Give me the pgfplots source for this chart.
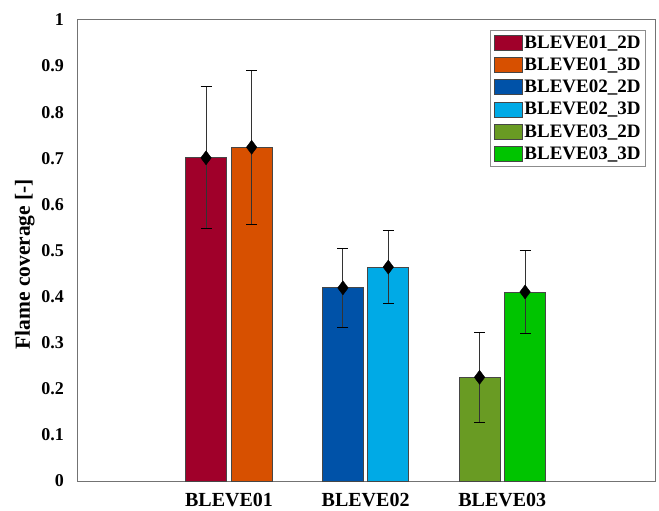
\documentclass[border=0pt]{standalone}
\usepackage{pgfplots}
\pgfplotsset{compat=1.18}
\usepackage{fontspec}
\setmainfont{Liberation Serif}
\definecolor{cA}{RGB}{160,0,42}
\definecolor{cB}{RGB}{215,80,0}
\definecolor{cC}{RGB}{0,82,168}
\definecolor{cD}{RGB}{0,170,230}
\definecolor{cE}{RGB}{105,155,35}
\definecolor{cF}{RGB}{0,196,0}
\definecolor{edge}{RGB}{70,70,70}
\begin{document}
\begin{tikzpicture}
\begin{axis}[
  scale only axis, width=577pt, height=461pt,
  xmin=-0.105, xmax=4.118, ymin=0, ymax=1,
  xtick={1,2,3}, xticklabels={BLEVE01,BLEVE02,BLEVE03},
  ytick={0,0.1,...,1.0},
  yticklabels={0,0.1,0.2,0.3,0.4,0.5,0.6,0.7,0.8,0.9,1},
  /pgf/number format/assume math mode=true,
  tick style={draw=none},
  axis line style={draw=black!55, line width=1pt},
  yticklabel style={font=\fontsize{18}{20}\selectfont\bfseries, inner sep=0pt},
  xticklabel style={font=\fontsize{20}{22}\selectfont\bfseries, inner sep=0pt},
  yticklabel shift=14pt,
  xticklabel shift=12pt,
  ylabel={Flame coverage [-]},
  ylabel style={font=\fontsize{21.5}{23}\selectfont\bfseries, at={(axis description cs:-0.069,0.47)}, anchor=south},
  legend style={at={(axis description cs:1,1)}, anchor=north east, xshift=-9pt, yshift=-10pt,
    draw=black!45, line width=0.8pt, font=\fontsize{19}{21}\selectfont\bfseries,
    inner xsep=3pt, inner ysep=3.5pt, row sep=4pt, cells={anchor=west}},
  legend image code/.code={\draw[#1, draw=edge, line width=0.6pt] (0pt,-7.5pt) rectangle (28pt,7.5pt);},
  legend cell align=left,
]
\addplot[ybar, bar width=0.3, bar shift=0, fill=cA, draw=edge, line width=0.8pt] coordinates {(0.832,0.701)};
\addlegendentry{BLEVE01\_2D}
\addplot[ybar, bar width=0.3, bar shift=0, fill=cB, draw=edge, line width=0.8pt] coordinates {(1.166,0.724)};
\addlegendentry{BLEVE01\_3D}
\addplot[ybar, bar width=0.3, bar shift=0, fill=cC, draw=edge, line width=0.8pt] coordinates {(1.834,0.419)};
\addlegendentry{BLEVE02\_2D}
\addplot[ybar, bar width=0.3, bar shift=0, fill=cD, draw=edge, line width=0.8pt] coordinates {(2.166,0.464)};
\addlegendentry{BLEVE02\_3D}
\addplot[ybar, bar width=0.3, bar shift=0, fill=cE, draw=edge, line width=0.8pt] coordinates {(2.834,0.225)};
\addlegendentry{BLEVE03\_2D}
\addplot[ybar, bar width=0.3, bar shift=0, fill=cF, draw=edge, line width=0.8pt] coordinates {(3.167,0.410)};
\addlegendentry{BLEVE03\_3D}
\addplot[forget plot, only marks, mark=diamond*, mark size=7pt, mark options={fill=black, draw=black},
  error bars/.cd, y dir=both, y explicit,
  error bar style={draw=black!80, line width=0.9pt},
  error mark options={rotate=90, mark size=5.5pt, line width=0.9pt, draw=black}]
coordinates {
  (0.832,0.701) +- (0,0.154)
  (1.166,0.724) +- (0,0.167)
  (1.834,0.419) +- (0,0.085)
  (2.166,0.464) +- (0,0.079)
  (2.834,0.225) +- (0,0.098)
  (3.167,0.410) +- (0,0.091)
};
\end{axis}
\path ([shift={(-78pt,-29pt)}]current axis.south west) rectangle ([shift={(4pt,20pt)}]current axis.north east);
\end{tikzpicture}
\end{document}
